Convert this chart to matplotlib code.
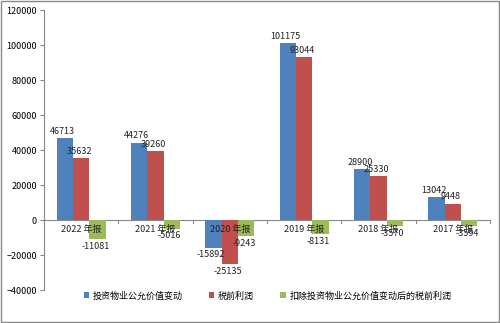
import numpy as np
import matplotlib.pyplot as plt
from matplotlib.patches import Rectangle

plt.rcParams['font.family'] = ['Noto Sans CJK SC', 'DejaVu Sans']

categories = ['2022 年报', '2021 年报', '2020 年报', '2019 年报', '2018 年报', '2017 年报']
fair_value = [46713, 44276, -15892, 101175, 28900, 13042]
pretax = [35632, 39260, -25135, 93044, 25330, 9448]
adjusted = [-11081, -5016, -9243, -8131, -3570, -3594]
series_names = ['投资物业公允价值变动', '税前利润', '扣除投资物业公允价值变动后的税前利润']
colors = ['#4f81bd', '#c0504d', '#9bbb59']

fig = plt.figure(figsize=(5, 3.23), dpi=100)
fig.patches.append(Rectangle((0.002, 0.003), 0.995, 0.994, transform=fig.transFigure,
                             fill=False, edgecolor='#888888', lw=1))
ax = fig.add_axes([0.088, 0.102, 0.892, 0.867])

x = np.arange(len(categories))
w = 0.22
for i, (vals, c, name) in enumerate(zip([fair_value, pretax, adjusted], colors, series_names)):
    pos = x + (i - 1) * w
    ax.bar(pos, vals, w, color=c, label=name, zorder=2)
    for p, v in zip(pos, vals):
        off = 1200 if v >= 0 else -1500
        ax.text(p - 0.03, v + off, str(v), ha='center', va='bottom' if v >= 0 else 'top',
                fontsize=6.5, color='#222222', zorder=3)

ax.set_xlim(-0.5, len(categories) - 0.5)
ax.set_ylim(-40000, 120000)
ax.set_yticks(np.arange(-40000, 120001, 20000))
ax.tick_params(axis='y', labelsize=6.5, length=3, color='#888888', pad=2)
ax.set_xticks([])
for s in ['top', 'right', 'bottom']:
    ax.spines[s].set_visible(False)
ax.spines['left'].set_color('#888888')
ax.axhline(0, color='#888888', lw=0.8, zorder=1)
for b in np.arange(-0.5, len(categories), 1):
    ax.plot([b, b], [0, -1500], color='#888888', lw=0.8, clip_on=False)
for xi, cat in zip(x, categories):
    ax.text(xi, -2800, cat, ha='center', va='top', fontsize=6.5, color='#222222', zorder=3)

fig.legend(loc='center', bbox_to_anchor=(0.535, 0.084), ncol=3, frameon=False, fontsize=6.5,
           handlelength=0.6, handleheight=0.6, handletextpad=0.4, columnspacing=2.9)

plt.savefig('out.png', dpi=100)
